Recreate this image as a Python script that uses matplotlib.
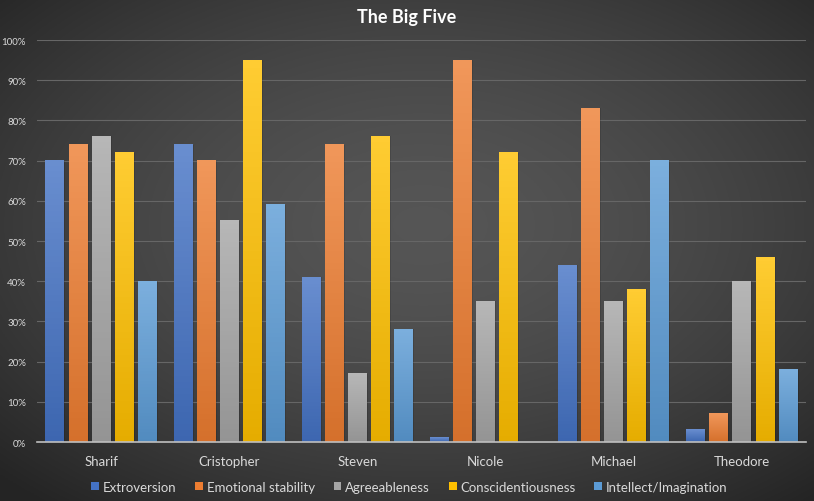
import numpy as np
import matplotlib.pyplot as plt
from matplotlib.ticker import PercentFormatter
from matplotlib.colors import to_rgb

plt.rcParams['font.family'] = ['Lato', 'DejaVu Sans']

# people and trait scores (fraction)
people = ["Sharif", "Cristopher", "Steven", "Nicole", "Michael", "Theodore"]
traits = ["Extroversion", "Emotional stability", "Agreeableness",
          "Conscidentiousness", "Intellect/Imagination"]
extroversion = [0.70, 0.74, 0.41, 0.01, 0.44, 0.03]
emotional = [0.74, 0.70, 0.74, 0.95, 0.83, 0.07]
agreeable = [0.76, 0.55, 0.17, 0.35, 0.35, 0.40]
conscientious = [0.72, 0.95, 0.76, 0.72, 0.38, 0.46]
intellect = [0.40, 0.59, 0.28, 0.0, 0.70, 0.18]
series = [extroversion, emotional, agreeable, conscientious, intellect]
colors = ["#4472C4", "#ED7D31", "#A5A5A5", "#FFC000", "#5B9BD5"]

fig = plt.figure(figsize=(8.14, 5.02), dpi=100)

# radial background, light middle, dark corners
bg = fig.add_axes([0, 0, 1, 1], zorder=-10)
yy, xx = np.mgrid[0:1:300j, 0:1:500j]
r = np.sqrt(((xx - 0.52) / 0.72) ** 2 + ((yy - 0.45) / 0.72) ** 2)
shade = 0.335 - 0.19 * np.clip(r, 0, 1) ** 1.6
bg.imshow(np.dstack([shade] * 3), extent=[0, 1, 0, 1], aspect="auto")
bg.axis("off")

ax = fig.add_axes([0.0455, 0.1175, 0.9447, 0.8008])
ax.patch.set_alpha(0)

x = np.arange(len(people))
step = 0.18
width = 0.148
for i, (vals, c, name) in enumerate(zip(series, colors, traits)):
    bars = ax.bar(x + (i - 2) * step, vals, width, color=c, label=name, zorder=3)
    base = np.array(to_rgb(c))
    for b in bars:
        h = b.get_height()
        if h <= 0:
            continue
        # soft shadow on the right
        ax.bar(b.get_x() + b.get_width() / 2 + 0.008, h, b.get_width(),
               bottom=0, color="black", alpha=0.12, zorder=2)
        # vertical gradient, lighter at top
        t = np.linspace(0, 1, 50)[:, None]
        light = base + (1 - base) * 0.2
        dark = base * 0.9
        grad = dark[None, :] * (1 - t) + light[None, :] * t
        ax.imshow(grad[:, None, :], extent=[b.get_x(), b.get_x() + b.get_width(), 0, h],
                  origin="lower", aspect="auto", zorder=4)

ax.set_xlim(-0.5, len(people) - 0.5)
ax.set_ylim(0, 1.0)
ax.set_yticks(np.arange(0, 1.01, 0.1))
ax.yaxis.set_major_formatter(PercentFormatter(1.0, decimals=0))
ax.set_xticks(x)
ax.set_xticklabels(people)
ax.tick_params(axis="y", colors="#D9D9D9", labelsize=7, length=0, pad=8)
ax.tick_params(axis="x", colors="#D9D9D9", labelsize=9.5, length=0, pad=9)
ax.grid(axis="y", color="#666666", linewidth=0.8, zorder=0)
for s in ["top", "right", "left"]:
    ax.spines[s].set_visible(False)
ax.spines["bottom"].set_color("#BFBFBF")
ax.spines["bottom"].set_linewidth(1.2)
ax.spines["bottom"].set_zorder(5)

fig.text(0.5, 0.966, "The Big Five", ha="center", va="center",
         color="white", fontsize=13, fontweight="bold")

leg = fig.legend(loc="center", bbox_to_anchor=(0.503, 0.028), ncol=5, frameon=False,
                 fontsize=9.5, handlelength=0.6, handleheight=0.6, handletextpad=0.3,
                 columnspacing=1.4, labelcolor="#D9D9D9")

fig.savefig("out.png", dpi=100)
